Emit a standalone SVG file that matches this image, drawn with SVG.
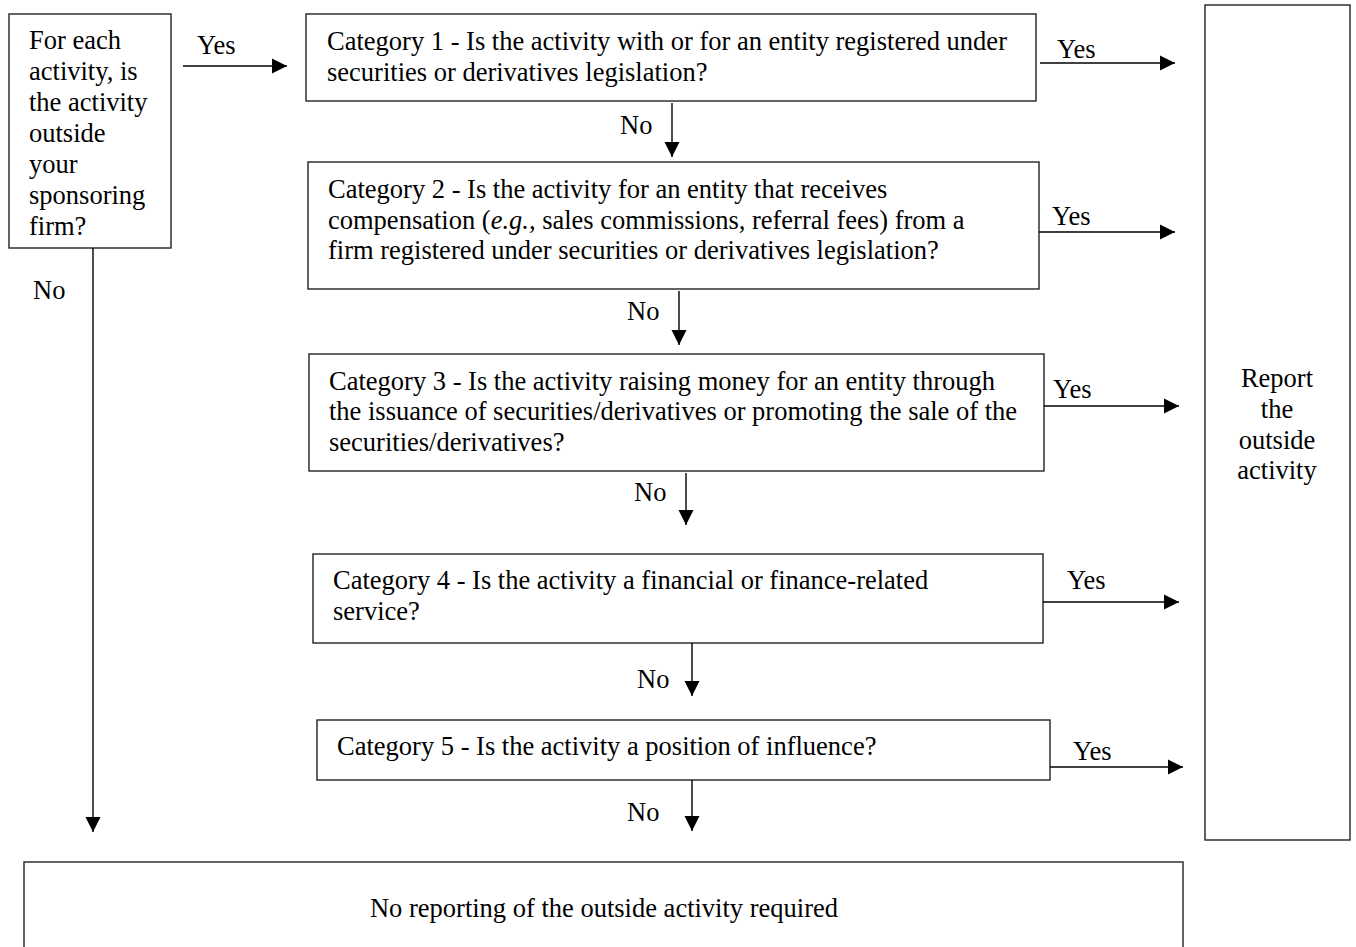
<svg xmlns="http://www.w3.org/2000/svg" width="1356" height="947" viewBox="0 0 1356 947">
<style>
rect.box{fill:#fff;stroke:#222;stroke-width:1.4}
text{font-family:"Liberation Serif","Times New Roman",serif;font-size:26.5px;fill:#000}
.c{text-anchor:middle}
line.a{stroke:#000;stroke-width:1.4;marker-end:url(#ah)}
</style>
<defs>
<marker id="ah" markerUnits="userSpaceOnUse" markerWidth="16" markerHeight="16" refX="15" refY="8" orient="auto">
<path d="M0,0.5 L15,8 L0,15.5 z" fill="#000"/>
</marker>
</defs>
<g id="start">
<rect class="box" x="9" y="14" width="162" height="234"/>
<text x="29" y="49">For each</text>
<text x="29" y="80">activity, is</text>
<text x="29" y="111">the activity</text>
<text x="29" y="142">outside</text>
<text x="29" y="173">your</text>
<text x="29" y="204">sponsoring</text>
<text x="29" y="235">firm?</text>
</g>
<g id="cat1">
<rect class="box" x="306" y="14" width="730" height="87"/>
<text x="327" y="50">Category 1 - Is the activity with or for an entity registered under</text>
<text x="327" y="81">securities or derivatives legislation?</text>
</g>
<g id="cat2">
<rect class="box" x="308" y="162" width="731" height="127"/>
<text x="328" y="198">Category 2 - Is the activity for an entity that receives</text>
<text x="328" y="229">compensation (<tspan font-style="italic">e.g.</tspan>, sales commissions, referral fees) from a</text>
<text x="328" y="259">firm registered under securities or derivatives legislation?</text>
</g>
<g id="cat3">
<rect class="box" x="309" y="354" width="735" height="117"/>
<text x="329" y="390">Category 3 - Is the activity raising money for an entity through</text>
<text x="329" y="420">the issuance of securities/derivatives or promoting the sale of the</text>
<text x="329" y="451">securities/derivatives?</text>
</g>
<g id="cat4">
<rect class="box" x="313" y="554" width="730" height="89"/>
<text x="333" y="589">Category 4 - Is the activity a financial or finance-related</text>
<text x="333" y="620">service?</text>
</g>
<g id="cat5">
<rect class="box" x="317" y="720" width="733" height="60"/>
<text x="337" y="755">Category 5 - Is the activity a position of influence?</text>
</g>
<g id="report">
<rect class="box" x="1205" y="5" width="145" height="835"/>
<text class="c" x="1277" y="387">Report</text>
<text class="c" x="1277" y="418">the</text>
<text class="c" x="1277" y="449">outside</text>
<text class="c" x="1277" y="479">activity</text>
</g>
<g id="noreport">
<rect class="box" x="24" y="862" width="1159" height="90"/>
<text class="c" x="604" y="917">No reporting of the outside activity required</text>
</g>
<g id="connectors">
<line class="a" x1="183" y1="66" x2="287" y2="66"/>
<text x="197" y="54">Yes</text>
<line class="a" x1="93" y1="248" x2="93" y2="832"/>
<text x="33" y="299">No</text>
<line class="a" x1="1040" y1="63" x2="1175" y2="63"/>
<text x="1057" y="58">Yes</text>
<line class="a" x1="672" y1="103" x2="672" y2="157"/>
<text x="620" y="134">No</text>
<line class="a" x1="1039" y1="232" x2="1175" y2="232"/>
<text x="1052" y="225">Yes</text>
<line class="a" x1="679" y1="291" x2="679" y2="345"/>
<text x="627" y="320">No</text>
<line class="a" x1="1044" y1="406" x2="1179" y2="406"/>
<text x="1053" y="398">Yes</text>
<line class="a" x1="686" y1="473" x2="686" y2="525"/>
<text x="634" y="501">No</text>
<line class="a" x1="1043" y1="602" x2="1179" y2="602"/>
<text x="1067" y="589">Yes</text>
<line class="a" x1="692" y1="643" x2="692" y2="696"/>
<text x="637" y="688">No</text>
<line class="a" x1="1050" y1="767" x2="1183" y2="767"/>
<text x="1073" y="760">Yes</text>
<line class="a" x1="692" y1="780" x2="692" y2="831"/>
<text x="627" y="821">No</text>
</g>
</svg>
